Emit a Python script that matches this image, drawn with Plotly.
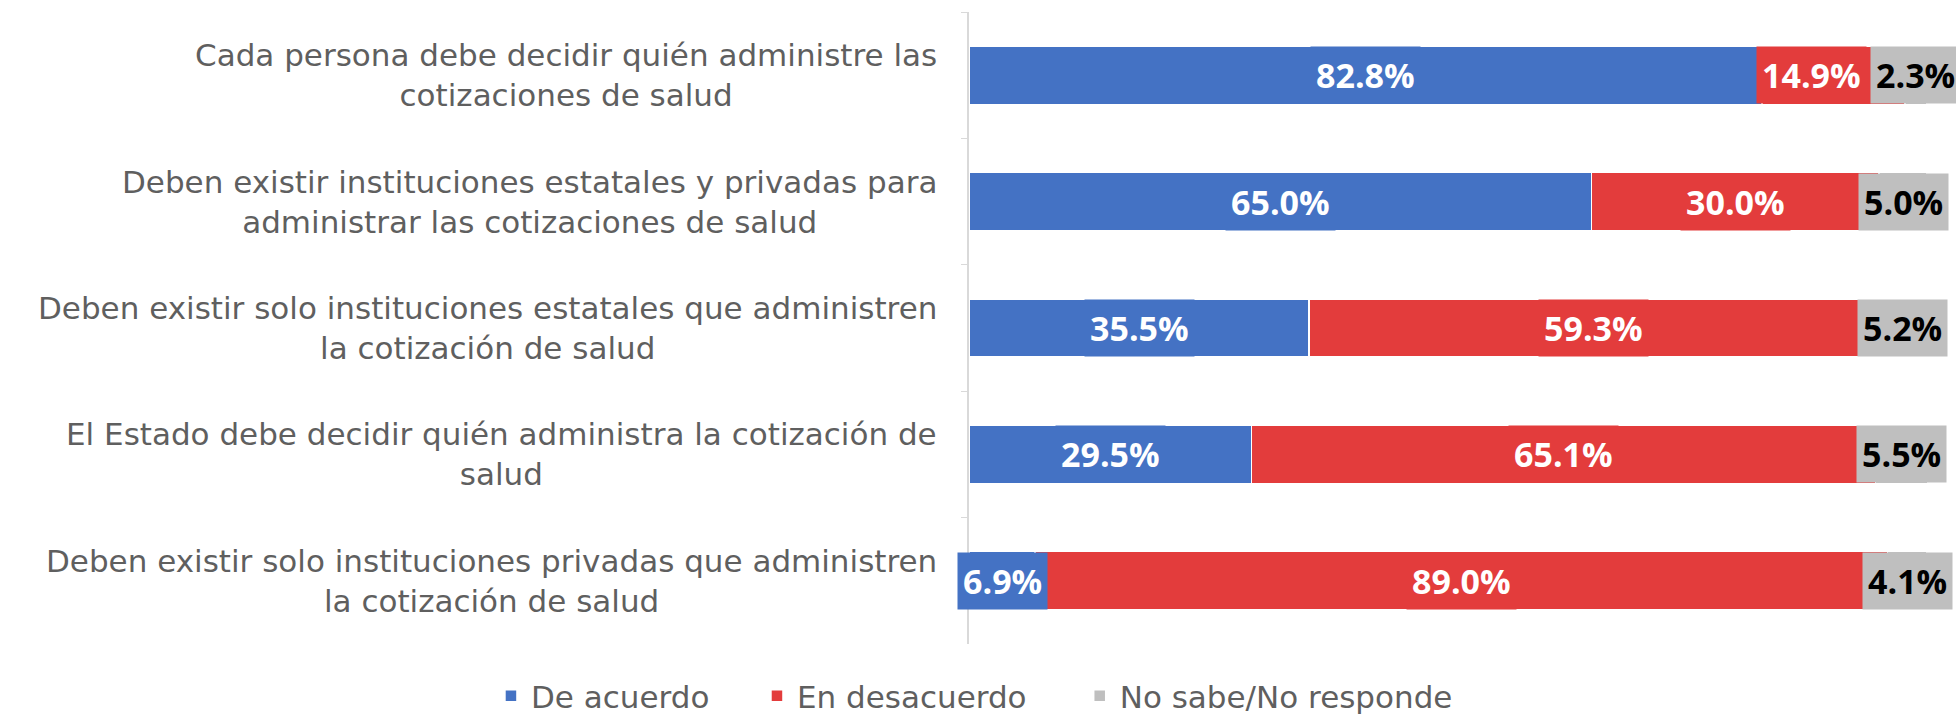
import plotly.graph_objects as go

categories = [
    "Cada persona debe decidir quién administre las<br>cotizaciones de salud",
    "Deben existir instituciones estatales y privadas para<br>administrar las cotizaciones de salud",
    "Deben existir solo instituciones estatales que administren<br>la cotización de salud",
    "El Estado debe decidir quién administra la cotización de<br>salud",
    "Deben existir solo instituciones privadas que administren<br>la cotización de salud",
]
de_acuerdo = [82.8, 65.0, 35.5, 29.5, 6.9]
en_desacuerdo = [14.9, 30.0, 59.3, 65.1, 89.0]
no_sabe = [2.3, 5.0, 5.2, 5.5, 4.1]

series = [
    ("De acuerdo", de_acuerdo, "#4472C4", "white"),
    ("En desacuerdo", en_desacuerdo, "#E33C3C", "white"),
    ("No sabe/No responde", no_sabe, "#BFBFBF", "black"),
]
# left edge of each legend entry (container fraction)
legend_x = [0.251, 0.387, 0.552]

label_font = "Open Sans"
cat_font = "DejaVu Sans"
grey_text = "#5f5f5f"

fig = go.Figure()
for k, (name, vals, color, txt) in enumerate(series):
    fig.add_trace(go.Bar(
        y=categories, x=vals, name=name, orientation="h",
        marker=dict(color=color, line=dict(color="white", width=1.5)),
        hovertemplate=name + ": %{x:.1f}%<extra></extra>",
        legend="legend" if k == 0 else "legend%d" % (k + 1),
        showlegend=True,
    ))

# data labels with filled boxes (like the Excel labels)
starts = [0.0] * len(categories)
for k, (name, vals, color, txt) in enumerate(series):
    for i, v in enumerate(vals):
        # nudge left when the next segment is too thin to hold its own label
        nxt = series[k + 1][1][i] if k + 1 < len(series) else 100
        fig.add_annotation(
            x=starts[i] + v / 2, y=categories[i], xref="x", yref="y",
            xshift=-22 if nxt < 3 else 0,
            text="<b>%.1f%%</b>" % v, showarrow=False,
            font=dict(family=label_font, size=34, color=txt),
            bgcolor=color, borderpad=5,
        )
        starts[i] += v

# category labels, centred lines, right-aligned against the axis
for c in categories:
    fig.add_annotation(
        x=0, y=c, xref="paper", yref="y", xanchor="right", xshift=-30,
        text=c, showarrow=False, align="center",
        font=dict(family=cat_font, size=31, color=grey_text),
    )

legends = {}
for k in range(len(series)):
    legends["legend" if k == 0 else "legend%d" % (k + 1)] = dict(
        orientation="h", xref="container", yref="container",
        x=legend_x[k], xanchor="left", y=0.025, yanchor="middle",
        bgcolor="rgba(0,0,0,0)",
        font=dict(family=cat_font, size=31, color=grey_text),
    )

fig.update_layout(
    width=1956, height=714,
    barmode="stack", bargap=0.54, showlegend=True,
    plot_bgcolor="white", paper_bgcolor="white",
    margin=dict(l=969, r=29, t=12, b=70, autoexpand=False),
    **legends,
)
fig.update_xaxes(range=[0, 100], visible=False)
fig.update_yaxes(
    autorange="reversed", showticklabels=False,
    showline=True, linecolor="#D9D9D9", linewidth=2,
    ticks="outside", tickson="boundaries", ticklen=6, tickcolor="#D9D9D9",
    showgrid=False,
)

fig.write_html(
    "out.html",
    config={"displayModeBar": False},
    post_script="document.body.style.margin='0';document.body.style.overflow='hidden';",
)
